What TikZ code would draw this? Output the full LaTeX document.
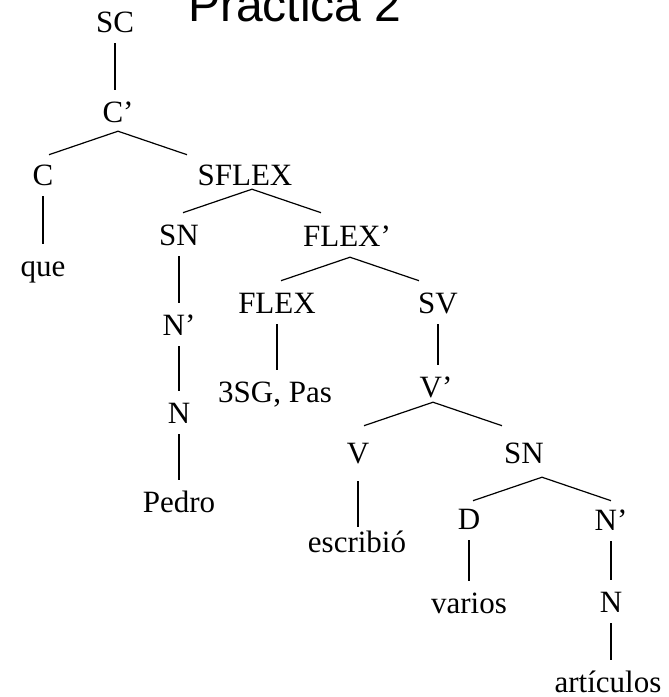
\documentclass[tikz,border=0pt]{standalone}
\usepackage{fontspec}
\setmainfont{Liberation Serif}
\newfontfamily\titlefont{Liberation Sans}
\usetikzlibrary{calc}
\tikzset{
  lab/.style={anchor=base, font=\fontsize{31}{37}\selectfont, text height=21pt, text depth=0pt, inner xsep=2pt, inner ysep=11pt},
  edge/.style={line width=1.2pt},
}
\newcommand\mybranch[3]{\draw[edge] ($(#1.south)+(#2-69,#3+23.5)$) -- ($(#1.south)+(#2,#3)$) -- ($(#1.south)+(#2+69,#3+23.5)$);}
\newcommand\myvert[2]{\draw[edge] (#1.south) -- (#1.south |- #2.north);}
\begin{document}
\begin{tikzpicture}[x=1pt,y=-1pt]
\useasboundingbox (0,0) rectangle (669,697);
\node[anchor=base, inner sep=0pt, font=\titlefont\fontsize{48}{56}\selectfont] (title) at (295,21) {Práctica 2};
\node[lab] (sc) at (115,32) {SC};
\node[lab] (cp) at (118,122) {C’};
\node[lab] (c) at (43,185) {C};
\node[lab] (sflex) at (245,185) {SFLEX};
\node[lab] (que) at (43,276) {que};
\node[lab] (sn) at (179,245) {SN};
\node[lab] (flexp) at (347,246) {FLEX’};
\node[lab] (np) at (179,335) {N’};
\node[lab] (n) at (179,423) {N};
\node[lab] (pedro) at (179,512) {Pedro};
\node[lab] (flex) at (277,313) {FLEX};
\node[lab] (sv) at (438,313) {SV};
\node[lab] (sg) at (275,402) {3SG, Pas};
\node[lab] (vp) at (436,397) {V’};
\node[lab] (v) at (358,463) {V};
\node[lab] (sn2) at (524,463) {SN};
\node[lab] (escr) at (357,552) {escribió};
\node[lab] (d) at (469,529) {D};
\node[lab] (np2) at (611,530) {N’};
\node[lab] (varios) at (469,613) {varios};
\node[lab] (n2) at (611,612) {N};
\node[lab, text height=32pt, inner ysep=0pt] (art) at (608,692) {artículos};
% vertical connectors
\myvert{sc}{cp}
\myvert{c}{que}
\myvert{sn}{np}
\myvert{np}{n}
\myvert{n}{pedro}
\myvert{flex}{sg}
\myvert{sv}{vp}
\draw[edge, shorten <=7pt, shorten >=-7pt] (v.south) -- (v.south |- escr.north);
\myvert{d}{varios}
\myvert{np2}{n2}
\myvert{n2}{art}
% branching connectors
\mybranch{cp}{0}{-2}
\mybranch{sflex}{7}{-7}
\mybranch{flexp}{3}{0}
\mybranch{vp}{-3}{-6}
\mybranch{sn2}{18}{3}
\end{tikzpicture}
\end{document}
